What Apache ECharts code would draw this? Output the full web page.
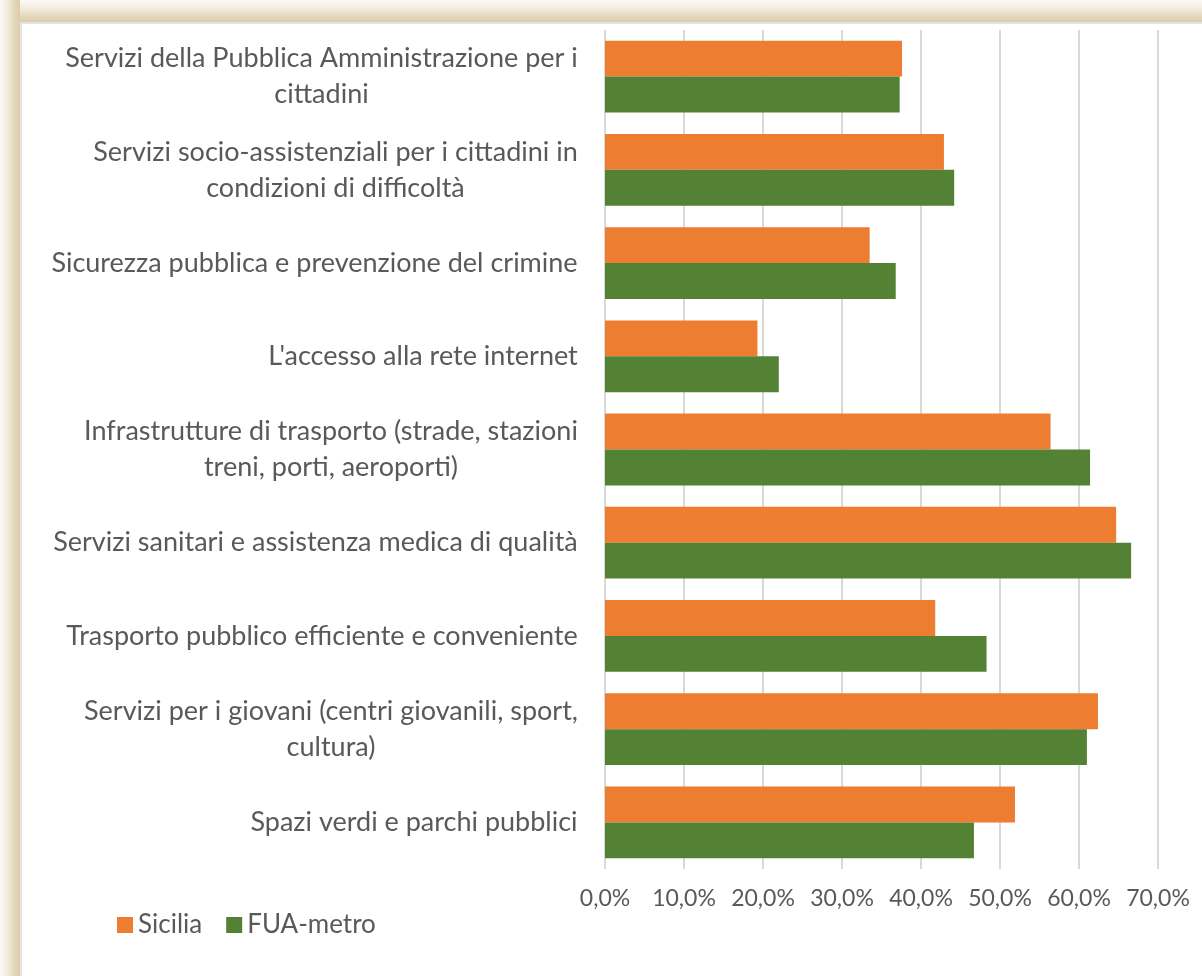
<!DOCTYPE html>
<html>
<head>
<meta charset="utf-8">
<script src="https://cdn.jsdelivr.net/npm/echarts@6/dist/echarts.min.js"></script>
<style>
    html, body { margin: 0; padding: 0; background: #fff; }
    .frame { position: absolute; left: 0; top: 0; width: 1202px; height: 976px; overflow: hidden; }
    .frame-top { position: absolute; left: 0; top: 0; width: 1202px; height: 22px;
        background: linear-gradient(to bottom, #fcfaf6 0px, #f3ece0 8px, #e5d8bc 16px, #dccdab 21px); }
    .frame-left { position: absolute; left: 0; top: 0; width: 20px; height: 976px;
        background: linear-gradient(to right, #fcfaf6 0px, #f3ece0 7px, #e5d8bc 14px, #dccdab 19px); }
    .paper { position: absolute; left: 20px; top: 22px; width: 1182px; height: 952px;
        background: #fff; border-left: 2px solid #e4e4e4; border-top: 2px solid #e4e4e4; border-bottom: 2px solid #e8e8e8; }
    #chart { position: absolute; left: 0; top: 0; width: 1202px; height: 976px; }
</style>
</head>
<body>
<div class="frame">
    <div class="frame-top"></div>
    <div class="frame-left"></div>
    <div class="paper"></div>
    <div id="chart"></div>
</div>
<script>
    // categorie (dall'alto verso il basso)
    var categories = [
        "Servizi della Pubblica Amministrazione per i\ncittadini",
        "Servizi socio-assistenziali per i cittadini in\ncondizioni di difficoltà",
        "Sicurezza pubblica e prevenzione del crimine",
        "L'accesso alla rete internet",
        "Infrastrutture di trasporto (strade, stazioni\ntreni, porti, aeroporti)",
        "Servizi sanitari e assistenza medica di qualità",
        "Trasporto pubblico efficiente e conveniente",
        "Servizi per i giovani (centri giovanili, sport,\ncultura)",
        "Spazi verdi e parchi pubblici"
    ];
    var sicilia = [37.6, 42.9, 33.5, 19.3, 56.4, 64.7, 41.8, 62.4, 51.9];
    var fuaMetro = [37.3, 44.2, 36.8, 22.0, 61.4, 66.6, 48.3, 61.0, 46.7];
    var seriesNames = ["Sicilia", "FUA-metro"];

    var textColor = '#595959';
    var fontFamily = 'Lato';
    var labelSize = 27;

    // larghezza della riga più lunga, per centrare le righe come in Excel
    var ctx = document.createElement('canvas').getContext('2d');
    ctx.font = labelSize + 'px "' + fontFamily + '"';
    var rich = {};
    categories.forEach(function (c, i) {
        var w = Math.max.apply(null, c.split('\n').map(function (l) { return ctx.measureText(l).width; }));
        rich['w' + i] = {
            width: Math.ceil(w),
            align: 'center',
            fontSize: labelSize,
            fontFamily: fontFamily,
            color: textColor,
            lineHeight: 36
        };
    });

    var myChart = echarts.init(document.getElementById('chart'));
    myChart.setOption({
        animation: false,
        textStyle: { fontFamily: fontFamily },
        grid: { left: 605, right: 44, top: 30, bottom: 107 },
        legend: {
            left: 112,
            top: 907,
            itemWidth: 16,
            itemHeight: 16,
            itemGap: 24,
            icon: 'rect',
            textStyle: { color: textColor, fontSize: 26, fontFamily: fontFamily },
            data: seriesNames
        },
        xAxis: {
            type: 'value',
            min: 0,
            max: 70,
            interval: 10,
            axisLine: { show: false },
            axisTick: { show: false },
            splitLine: { lineStyle: { color: '#d9d9d9', width: 2 } },
            axisLabel: {
                color: textColor,
                fontSize: 23,
                fontFamily: fontFamily,
                margin: 18,
                formatter: function (v) { return v.toFixed(1).replace('.', ',') + '%'; }
            }
        },
        yAxis: {
            type: 'category',
            inverse: true,
            data: categories,
            axisLine: { show: false },
            axisTick: { show: false },
            axisLabel: {
                margin: 27,
                formatter: function (v, i) {
                    return v.split('\n').map(function (l) { return '{w' + i + '|' + l + '}'; }).join('\n');
                },
                rich: rich
            }
        },
        series: [
            {
                name: seriesNames[0],
                type: 'bar',
                data: sicilia,
                barGap: '0%',
                barCategoryGap: '23%',
                itemStyle: { color: '#ED7D31' }
            },
            {
                name: seriesNames[1],
                type: 'bar',
                data: fuaMetro,
                barGap: '0%',
                barCategoryGap: '23%',
                itemStyle: { color: '#548235' }
            }
        ]
    });
</script>
</body>
</html>
